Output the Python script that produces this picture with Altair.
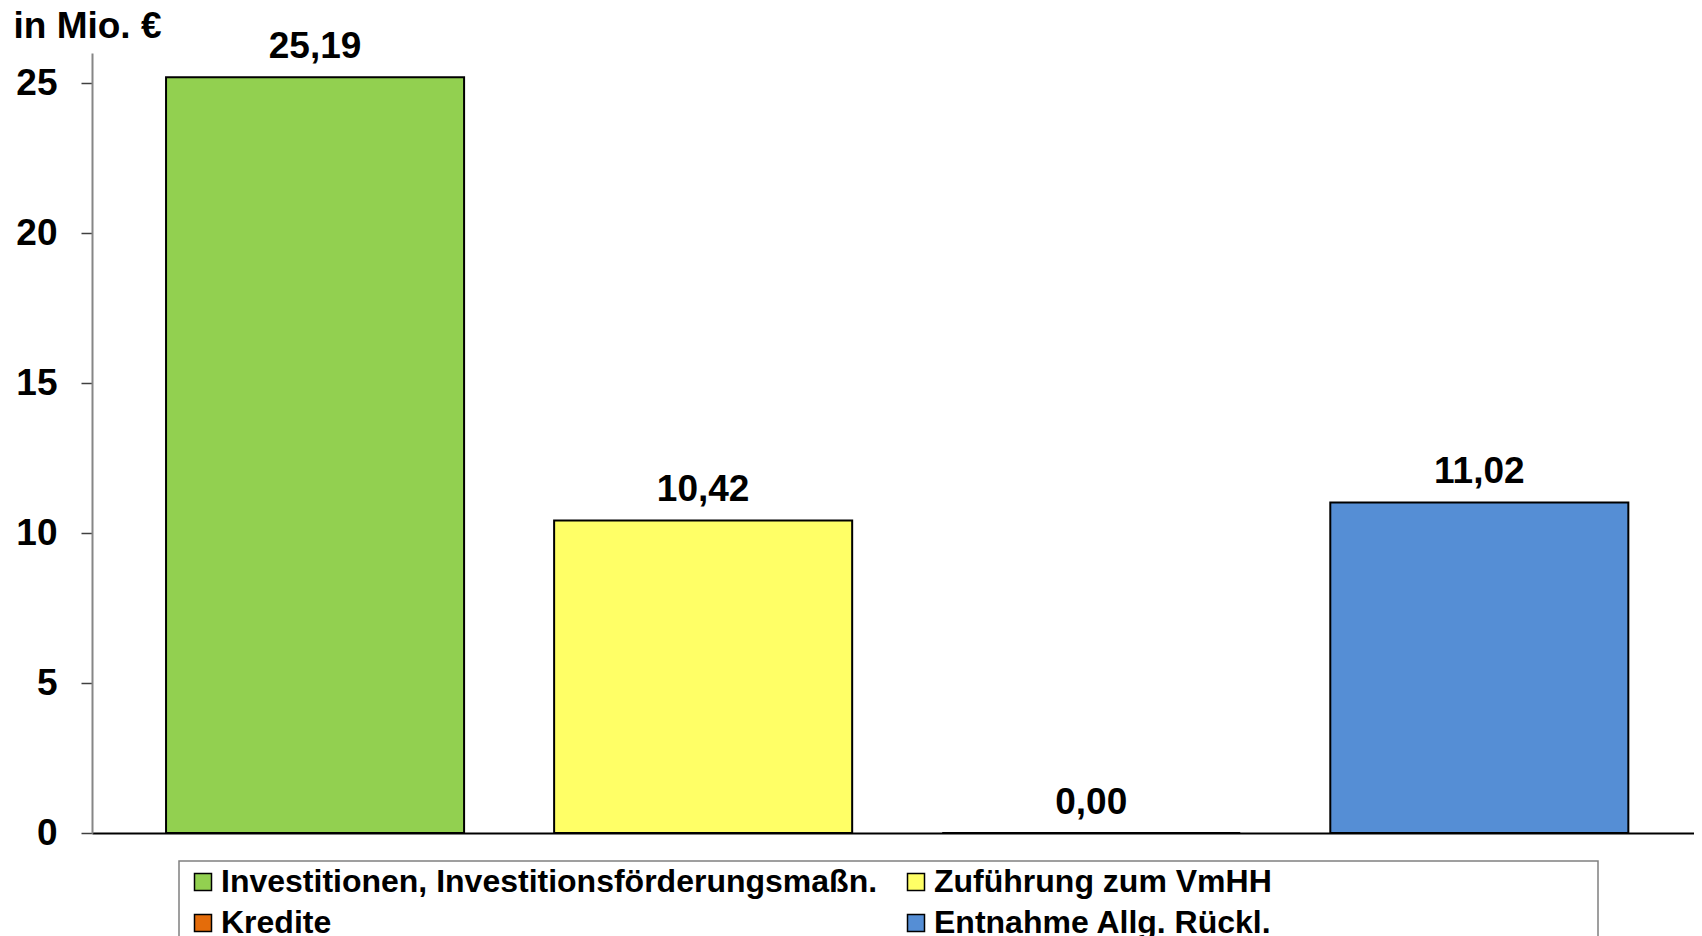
import altair as alt
import pandas as pd

categories = [
    "Investitionen, Investitionsförderungsmaßn.",
    "Zuführung zum VmHH",
    "Kredite",
    "Entnahme Allg. Rückl.",
]
values = [25.19, 10.42, 0.00, 11.02]
colors = ["#92D050", "#FFFF66", "#E46C0A", "#558ED5"]
y_ticks = [0, 5, 10, 15, 20, 25]

df = pd.DataFrame({
    "cat": categories,
    "val": values,
    "label": [f"{v:.2f}".replace(".", ",") for v in values],
})

FONT = "Liberation Sans"

x_scale = alt.Scale(paddingInner=0.232, paddingOuter=0.18, align=0.53)
y_scale = alt.Scale(domain=[0, 26], nice=False)

x_enc = alt.X(
    "cat:N",
    sort=categories,
    title="",
    scale=x_scale,
    axis=alt.Axis(labels=False, ticks=False, grid=False, domainColor="#000000", domainWidth=2),
)
y_enc = alt.Y(
    "val:Q",
    title="in Mio. €",
    scale=y_scale,
    axis=alt.Axis(
        values=y_ticks,
        grid=False,
        domainColor="#868686",
        domainWidth=2,
        tickColor="#404040",
        tickSize=11,
        tickWidth=1.5,
        labelFontSize=37,
        labelFontWeight="bold",
        labelFont=FONT,
        labelColor="#000000",
        labelPadding=24,
        titleAngle=0,
        titleAlign="left",
        titleBaseline="alphabetic",
        titleX=-79,
        titleY=-16,
        titleFontSize=37,
        titleFontWeight="bold",
        titleFont=FONT,
        titleColor="#000000",
    ),
)

base = alt.Chart(df)

bars = base.mark_bar(stroke="#000000", strokeWidth=2, opacity=1).encode(
    x=x_enc,
    y=y_enc,
    color=alt.Color(
        "cat:N",
        scale=alt.Scale(domain=categories, range=colors),
        legend=alt.Legend(
            title=None,
            orient="none",
            legendX=95,
            legendY=813,
            direction="horizontal",
            columns=2,
            columnPadding=22,
            rowPadding=9,
            symbolType="square",
            symbolSize=289,
            symbolStrokeColor="#000000",
            symbolStrokeWidth=1.5,
            symbolOpacity=1,
            labelFontSize=32,
            labelFontWeight="bold",
            labelFont=FONT,
            labelColor="#000000",
            labelLimit=2000,
            labelOffset=2,
            padding=0,
        ),
    ),
)

text = base.mark_text(
    dy=-19,
    baseline="alphabetic",
    fontSize=37,
    fontWeight="bold",
    font=FONT,
    color="#000000",
).encode(
    x=alt.X("cat:N", sort=categories),
    y=alt.Y("val:Q"),
    text="label:N",
)

frame = alt.Chart(pd.DataFrame({"a": [0]})).mark_rect(
    fillOpacity=0, stroke="#808080", strokeWidth=1.5
).encode(
    x=alt.value(87),
    x2=alt.value(1506),
    y=alt.value(808),
    y2=alt.value(940),
)

chart = (
    alt.layer(bars, text, frame)
    .properties(
        width=1602,
        height=780,
        autosize=alt.AutoSizeParams(type="none"),
        padding={"left": 84, "top": 45, "right": 0, "bottom": 103},
    )
    .configure(font=FONT, background="#ffffff")
    .configure_view(strokeWidth=0, stroke="transparent")
    .configure_axis(grid=False)
)

chart.save("out.html", embed_options={"renderer": "svg", "actions": False})
